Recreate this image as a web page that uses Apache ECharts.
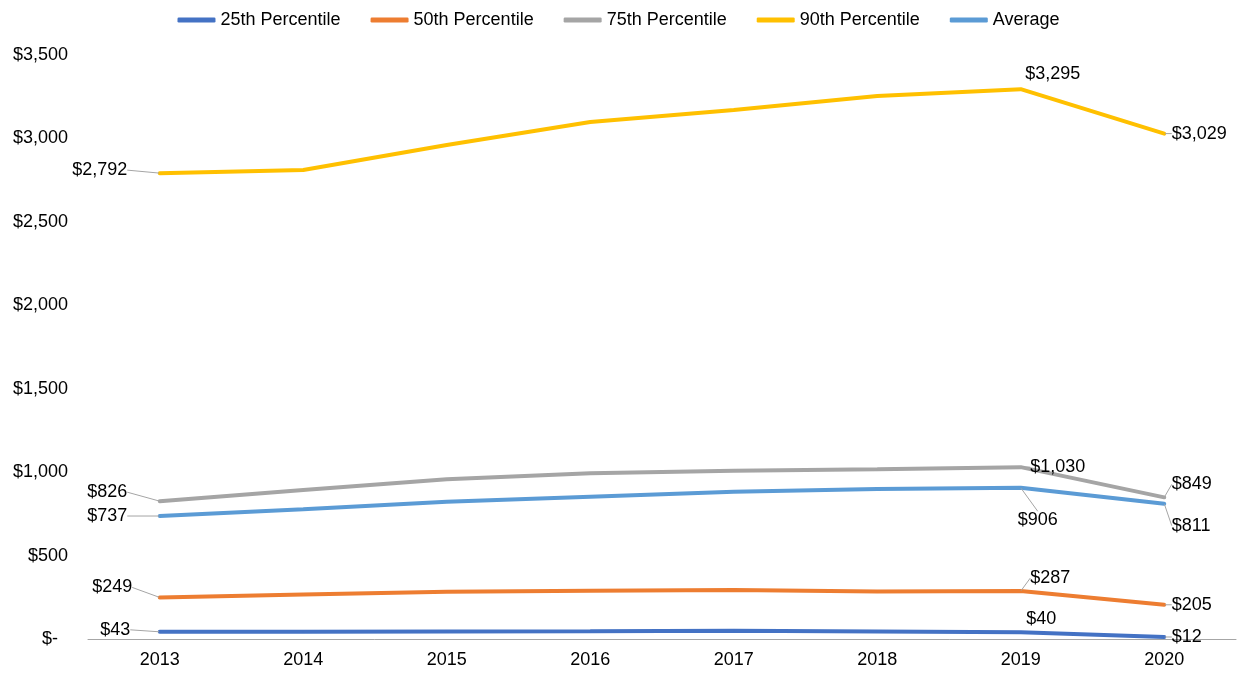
<!DOCTYPE html>
<html>
<head>
<meta charset="utf-8">
<script src="https://cdn.jsdelivr.net/npm/echarts@6/dist/echarts.min.js"></script>
<style>
html,body{margin:0;padding:0;background:#fff;}
#c{width:1237px;height:673px;}
</style>
</head>
<body>
<div id="c"></div>
<script>
const years = ['2013','2014','2015','2016','2017','2018','2019','2020'];
const p25 = [43, 44, 45, 46, 49, 45, 40, 12];
const p50 = [249, 266, 283, 289, 294, 285, 287, 205];
const p75 = [826, 893, 957, 993, 1009, 1017, 1030, 849];
const p90 = [2792, 2811, 2961, 3098, 3170, 3254, 3295, 3029];
const avg = [737, 778, 823, 853, 883, 899, 906, 811];
const names = ['25th Percentile','50th Percentile','75th Percentile','90th Percentile','Average'];
const colors = ['#4472C4','#ED7D31','#A5A5A5','#FFC000','#5B9BD5'];
const yTicks = [0, 500, 1000, 1500, 2000, 2500, 3000, 3500];

// label placement relative to the point; moved labels get leader lines
const labelPos = [
  {0:{position:'left'}, 6:{position:[6,-13], align:'left', verticalAlign:'middle'}, 7:{position:'right', padding:[0,0,0,2]}},
  {0:{position:'left'}, 6:{position:'right'}, 7:{position:'right', padding:[0,0,0,2]}},
  {0:{position:'left'}, 6:{position:'right', padding:[0,0,0,4]}, 7:{position:'right'}},
  {0:{position:'left'}, 6:{position:[5,-15], align:'left', verticalAlign:'middle'}, 7:{position:'right', padding:[0,0,0,2]}},
  {0:{position:'left'}, 6:{position:'bottom'}, 7:{position:'right'}}
];
const noLeader = [{6:true}, {}, {}, {6:true}, {}];
const moves = [
  {0:[-24,-2]},
  {0:[-22,-10], 6:[4,-13]},
  {0:[-27,-9], 7:[2,-13]},
  {0:[-27,-3]},
  {0:[-27,0], 6:[17,18], 7:[2,22]}
];
const fmt = v => '$' + v.toLocaleString('en-US');
const seriesVals = [p25, p50, p75, p90, avg];

const series = seriesVals.map((vals, s) => ({
  name: names[s],
  type: 'line',
  data: vals.map((v, i) => {
    if (!labelPos[s][i]) return v;
    const item = {value: v, label: Object.assign({show: true}, labelPos[s][i])};
    if (noLeader[s][i]) item.labelLine = {show: false};
    return item;
  }),
  symbol: 'circle',
  symbolSize: 1,
  showSymbol: true,
  lineStyle: {width: 4, color: colors[s], cap: 'round'},
  itemStyle: {color: colors[s]},
  label: {
    show: false,
    fontSize: 18,
    color: '#000',
    fontFamily: 'Liberation Sans, Arial, sans-serif',
    formatter: p => fmt(p.value)
  },
  labelLine: {show: true, lineStyle: {color: '#A5A5A5', width: 1}},
  labelLayout: p => {
    const m = moves[p.seriesIndex][p.dataIndex];
    return m ? {dx: m[0], dy: m[1]} : {};
  },
  emphasis: {disabled: true},
  z: 10 - s
}));

const chart = echarts.init(document.getElementById('c'), null, {renderer: 'canvas'});
chart.setOption({
  animation: false,
  textStyle: {fontFamily: 'Liberation Sans, Arial, sans-serif'},
  color: colors,
  legend: {
    top: 6,
    left: 'center',
    icon: 'roundRect',
    itemWidth: 38,
    itemHeight: 5,
    itemGap: 30,
    textStyle: {fontSize: 18, color: '#000', fontFamily: 'Liberation Sans, Arial, sans-serif'},
    data: names
  },
  grid: {left: 88, right: 1, top: 55, bottom: 34, containLabel: false},
  xAxis: {
    type: 'category',
    data: years,
    boundaryGap: true,
    axisLine: {lineStyle: {color: '#A6A6A6', width: 1}},
    axisTick: {show: false},
    axisLabel: {fontSize: 18, color: '#000', margin: 12}
  },
  yAxis: {
    type: 'value',
    min: yTicks[0],
    max: yTicks[yTicks.length - 1],
    interval: yTicks[1] - yTicks[0],
    splitLine: {show: false},
    axisLine: {show: false},
    axisTick: {show: false},
    axisLabel: {
      fontSize: 18, color: '#000', margin: 20,
      formatter: v => v === 0 ? '$-  ' : fmt(v)
    }
  },
  series: series
});
</script>
</body>
</html>
